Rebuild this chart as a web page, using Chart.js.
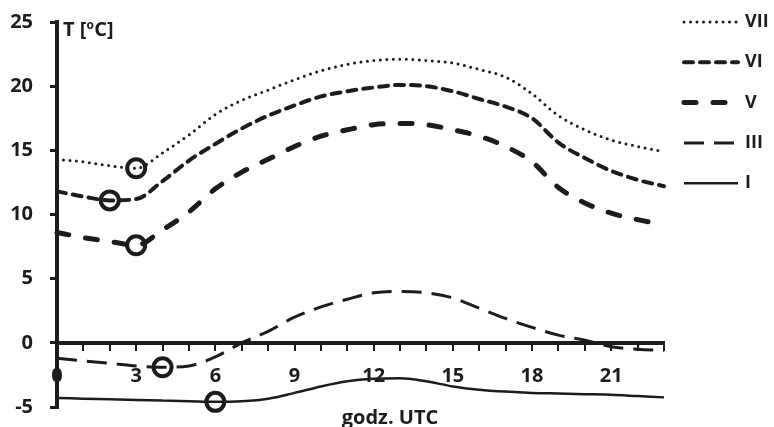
<!DOCTYPE html>
<html>
<head>
<meta charset="utf-8">
<script src="https://cdn.jsdelivr.net/npm/chart.js@4/dist/chart.umd.min.js"></script>
<style>
  html, body { margin: 0; padding: 0; background: #fff; }
  #wrap { width: 774px; height: 427px; }
</style>
</head>
<body>
<div id="wrap"><canvas id="chart" width="774" height="427"></canvas></div>
<script>
// Hourly mean air temperature (UTC hours 0–23) for selected months
const hours = [0,1,2,3,4,5,6,7,8,9,10,11,12,13,14,15,16,17,18,19,20,21,22,23];
const xTickLabels = ['0','3','6','9','12','15','18','21'];
const yTickLabels = ['-5','0','5','10','15','20','25'];

const seriesNames = ['VII', 'VI', 'V', 'III', 'I'];
const tempVII = [14.3,14.1,13.8,13.6,14.8,16.2,17.8,18.9,19.7,20.5,21.2,21.7,22.0,22.1,22.0,21.8,21.3,20.7,19.4,17.7,16.6,15.8,15.3,14.9];
const tempVI  = [11.8,11.4,11.1,11.2,12.6,14.2,15.5,16.7,17.7,18.5,19.2,19.6,19.9,20.1,20.0,19.6,19.0,18.4,17.5,15.6,14.4,13.4,12.7,12.2];
const tempV   = [8.6,8.2,7.9,7.6,8.8,10.2,12.0,13.3,14.3,15.3,16.1,16.6,17.0,17.1,17.0,16.6,16.1,15.3,14.1,12.1,10.9,10.1,9.6,9.2];
const tempIII = [-1.2,-1.4,-1.6,-1.8,-1.9,-1.8,-1.1,0.0,0.9,2.0,2.8,3.4,3.9,4.0,3.9,3.5,2.7,1.9,1.2,0.6,0.2,-0.3,-0.5,-0.6];
const tempI   = [-4.3,-4.35,-4.4,-4.45,-4.5,-4.55,-4.6,-4.55,-4.35,-3.9,-3.4,-3.0,-2.8,-2.75,-3.0,-3.4,-3.65,-3.8,-3.9,-3.95,-4.0,-4.05,-4.15,-4.25];
// hour of the daily minimum, marked with a ring
const minHour = [3, 2, 3, 4, 6];

const INK = '#1c1c1c';
const FONT = "'Open Sans', 'Liberation Sans', sans-serif";

const lineStyles = [
  { width: 3,   dash: [0, 6.5], cap: 'round' },
  { width: 4,   dash: [9, 7],   cap: 'round' },
  { width: 5,   dash: [12, 17], cap: 'round' },
  { width: 3,   dash: [20, 10], cap: 'butt'  },
  { width: 2.5, dash: [],       cap: 'butt'  }
];

const seriesValues = [tempVII, tempVI, tempV, tempIII, tempI];

const datasets = seriesNames.map((name, i) => ({
  label: name,
  data: seriesValues[i].map((t, k) => ({ x: hours[k], y: t })),
  borderColor: INK,
  borderWidth: lineStyles[i].width,
  borderDash: lineStyles[i].dash,
  borderCapStyle: lineStyles[i].cap,
  cubicInterpolationMode: 'monotone',
  fill: false,
  clip: false,
  pointRadius: hours.map(h => (h === minHour[i] ? 9 : 0)),
  pointHoverRadius: hours.map(h => (h === minHour[i] ? 9 : 0)),
  pointBorderWidth: 4,
  pointBorderColor: INK,
  pointBackgroundColor: 'rgba(0,0,0,0)'
}));

// Legend on the right, axis title and unit label
const annotations = {
  id: 'annotations',
  afterDraw(chart) {
    const ctx = chart.ctx;
    ctx.save();
    // legend
    chart.data.datasets.forEach((ds, i) => {
      const y = 22 + i * 40.3;
      ctx.save();
      ctx.strokeStyle = ds.borderColor;
      ctx.lineWidth = ds.borderWidth;
      ctx.setLineDash(ds.borderDash);
      ctx.lineCap = ds.borderCapStyle;
      ctx.beginPath();
      ctx.moveTo(684, y);
      ctx.lineTo(738, y);
      ctx.stroke();
      ctx.restore();
      ctx.fillStyle = INK;
      ctx.font = 'bold 18px ' + FONT;
      ctx.textAlign = 'left';
      ctx.textBaseline = 'middle';
      ctx.fillText(ds.label, 745, y);
    });
    // unit label next to the y axis
    ctx.fillStyle = INK;
    ctx.textBaseline = 'alphabetic';
    ctx.textAlign = 'left';
    ctx.font = 'bold 20px ' + FONT;
    let x = 63;
    const base = 36;
    ctx.fillText('T [', x, base);
    x += ctx.measureText('T [').width;
    ctx.font = 'bold 12px ' + FONT;
    ctx.fillText('o', x, base - 7);
    x += ctx.measureText('o').width + 0.5;
    ctx.font = 'bold 20px ' + FONT;
    ctx.fillText('C]', x, base);
    // x axis title
    ctx.textAlign = 'center';
    ctx.fillText('godz. UTC', 390, 424);
    ctx.restore();
  }
};

new Chart(document.getElementById('chart'), {
  type: 'line',
  data: { datasets },
  options: {
    responsive: false,
    animation: false,
    devicePixelRatio: 1,
    layout: { padding: { top: 22, bottom: 20, left: 0, right: 110 } },
    plugins: { legend: { display: false }, tooltip: { enabled: false } },
    scales: {
      x: {
        type: 'linear',
        min: hours[0],
        max: hours[hours.length - 1],
        position: { y: 0 },
        afterFit(scale) {
          // the axis sits inside the plot at T = 0, so it takes no layout room
          scale.height = 0;
          scale.paddingLeft = 0;
          scale.paddingRight = 0;
        },
        border: { display: true, color: INK, width: 4 },
        grid: { display: true, drawOnChartArea: false, drawTicks: true, tickLength: 6, lineWidth: 2, color: INK },
        ticks: {
          stepSize: 1,
          autoSkip: false,
          maxRotation: 0,
          padding: 15,
          color: INK,
          font: { family: FONT, size: 20, weight: 'bold' },
          callback: (v) => (xTickLabels.includes(String(v)) ? String(v) : '')
        }
      },
      y: {
        min: Number(yTickLabels[0]),
        max: Number(yTickLabels[yTickLabels.length - 1]),
        position: 'left',
        afterFit(scale) {
          scale.width = 57;
          scale.paddingTop = 0;
          scale.paddingBottom = 0;
        },
        border: { display: true, color: INK, width: 4 },
        grid: { display: true, drawOnChartArea: false, drawTicks: true, tickLength: 7, lineWidth: 3, color: INK },
        ticks: {
          stepSize: 5,
          padding: 17,
          color: INK,
          font: { family: FONT, size: 20, weight: 'bold' },
          callback: (v) => (yTickLabels.includes(String(v)) ? String(v) : '')
        }
      }
    }
  },
  plugins: [annotations]
});
</script>
</body>
</html>
